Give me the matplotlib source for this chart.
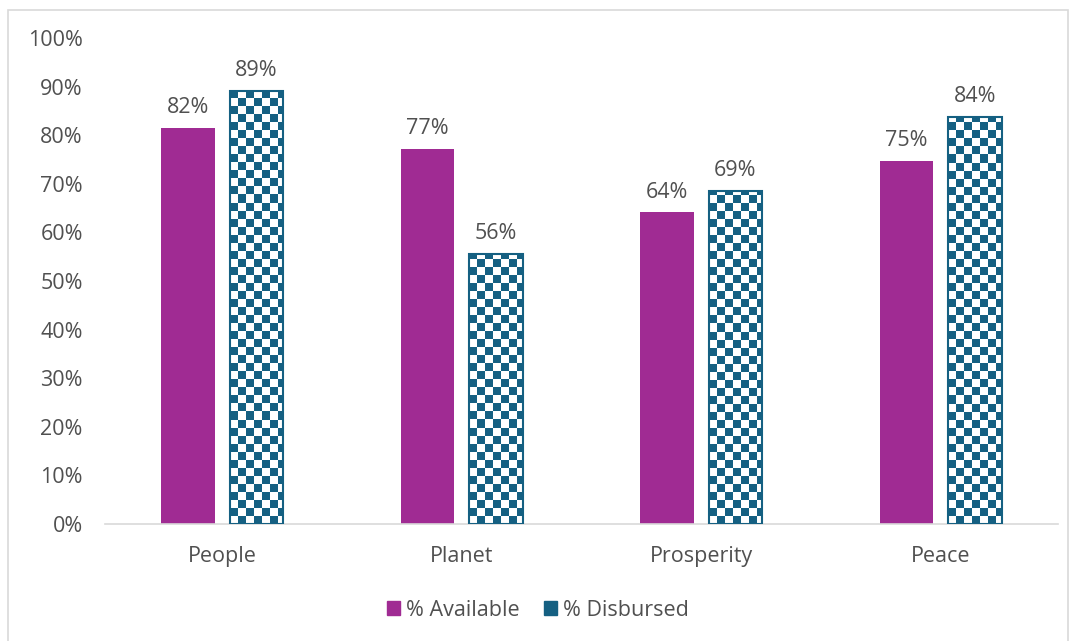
import numpy as np
import matplotlib
matplotlib.use('Agg')
import matplotlib.pyplot as plt
from matplotlib.colors import ListedColormap
from matplotlib.patches import Rectangle, Patch

categories = ['People', 'Planet', 'Prosperity', 'Peace']
available = [81.5, 77.2, 64.1, 74.7]
disbursed = [89.1, 55.6, 68.5, 83.8]
available_labels = ['82%', '77%', '64%', '75%']
disbursed_labels = ['89%', '56%', '69%', '84%']
yticks = list(range(0, 101, 10))

purple = '#A02B93'
teal = '#156082'
text_col = '#505050'
fs = 15.5

plt.rcParams['font.family'] = ['Open Sans', 'DejaVu Sans']

fig = plt.figure(figsize=(10.76, 6.41), dpi=100)
ax = fig.add_axes([105 / 1076, 117 / 641, 953 / 1076, 486 / 641])

# light frame around the chart area
fig.patches.append(Rectangle((8 / 1076, -0.01), 1060 / 1076, 631 / 641 + 0.01,
                             transform=fig.transFigure, fill=False,
                             edgecolor='#D9D9D9', lw=1.2))

x = np.arange(len(categories))
w = 0.224
off = 0.143

bars_a = ax.bar(x - off, available, w, color=purple, zorder=2)
bars_d = ax.bar(x + off, disbursed, w, facecolor='none', edgecolor=teal, lw=1.5, zorder=3)

# checkerboard fill clipped to the disbursed bars
cell_x = 0.0335
cell_y = 1.65
cmap = ListedColormap(['white', teal])
for b in bars_d:
    x0 = b.get_x()
    h = b.get_height()
    nx = int(np.ceil(b.get_width() / cell_x))
    ny = int(np.ceil(h / cell_y))
    arr = np.add.outer(np.arange(ny), np.arange(nx)) % 2
    im = ax.imshow(arr, cmap=cmap, extent=(x0, x0 + nx * cell_x, 0, ny * cell_y),
                   origin='lower', interpolation='nearest', aspect='auto', zorder=2)
    im.set_clip_path(b)

for b, lab in zip(bars_a, available_labels):
    ax.annotate(lab, (b.get_x() + b.get_width() / 2, b.get_height()),
                xytext=(0, 7), textcoords='offset points', ha='center', va='bottom',
                fontsize=fs, color=text_col)
for b, lab in zip(bars_d, disbursed_labels):
    ax.annotate(lab, (b.get_x() + b.get_width() / 2, b.get_height()),
                xytext=(0, 7), textcoords='offset points', ha='center', va='bottom',
                fontsize=fs, color=text_col)

ax.set_xlim(-0.49, 3.49)
ax.set_ylim(0, 100)
ax.set_yticks(yticks)
ax.set_yticklabels([f'{t}%' for t in yticks])
ax.set_xticks(x)
ax.set_xticklabels(categories)
ax.tick_params(axis='y', length=0, pad=16, labelsize=fs, labelcolor=text_col)
ax.tick_params(axis='x', length=0, pad=16, labelsize=fs, labelcolor=text_col)
for s in ['top', 'right', 'left']:
    ax.spines[s].set_visible(False)
ax.spines['bottom'].set_color('#D9D9D9')
ax.spines['bottom'].set_linewidth(1.2)

handles = [Patch(facecolor=purple, edgecolor=purple),
           Patch(facecolor=teal, edgecolor=teal)]
fig.legend(handles, ['% Available', '% Disbursed'], loc='center',
           bbox_to_anchor=(0.5, 31 / 641), ncol=2, frameon=False,
           handlelength=0.6, handleheight=0.6, handletextpad=0.3,
           columnspacing=1.1, fontsize=fs, labelcolor=text_col)

fig.savefig('out.png', dpi=100)
